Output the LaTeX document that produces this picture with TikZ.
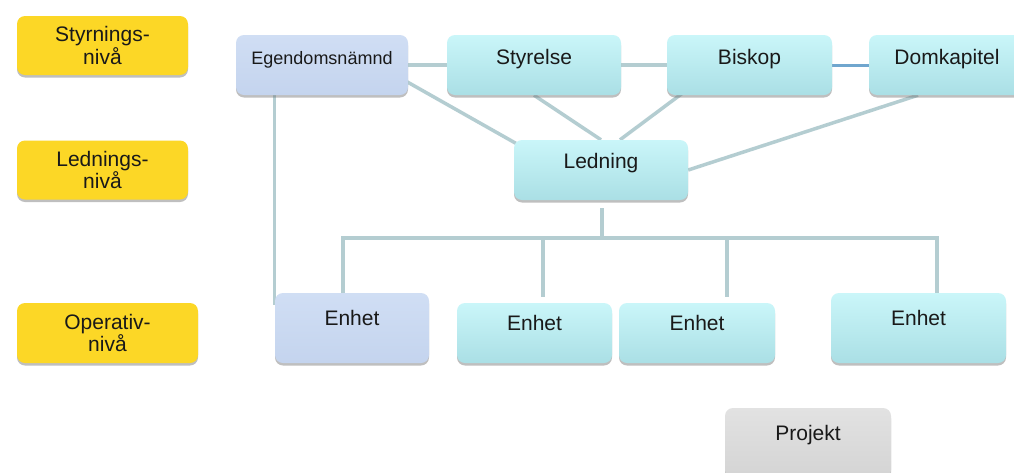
\documentclass[tikz,border=0pt]{standalone}
\usepackage{fontspec}
\setmainfont{Liberation Sans}
\usetikzlibrary{shadows,backgrounds,calc}
\definecolor{lev}{RGB}{252,215,38}
\definecolor{cyT}{RGB}{202,246,249}
\definecolor{cyB}{RGB}{170,223,229}
\definecolor{blT}{RGB}{208,222,244}
\definecolor{blB}{RGB}{196,212,238}
\definecolor{grT}{RGB}{226,226,226}
\definecolor{grB}{RGB}{212,212,212}
\definecolor{connc}{RGB}{180,205,209}
\definecolor{connb}{RGB}{112,166,206}
\definecolor{txt}{RGB}{25,25,25}
\begin{document}
\begin{tikzpicture}[x=1pt,y=-1pt,
  base/.style={rounded corners=8pt, inner sep=0pt, text=txt,
    font=\fontsize{21}{20}\selectfont,
    drop shadow={shadow xshift=0pt,shadow yshift=-2.5pt,fill=black!55,opacity=0.45}},
  lift/.style={text height=15pt, text depth=#1},
  levbox/.style={base, fill=lev, align=center, minimum width=171pt, minimum height=59pt},
  cyanbox/.style={base, top color=cyT, bottom color=cyB},
  bluebox/.style={base, top color=blT, bottom color=blB},
  greybox/.style={base, top color=grT, bottom color=grB},
  conn/.style={draw=connc, line width=3.5pt},
]
\useasboundingbox (0,0) rectangle (1014,472);
\clip (0,0) rectangle (1014,472);

% level labels
\node[levbox] (lev1) at (102.5,45.5) {Styrnings-\\nivå};
\node[levbox] (lev2) at (102.5,170) {Lednings-\\nivå};
\node[levbox, minimum width=181pt, minimum height=60pt] (lev3) at (107.5,333) {Operativ-\\nivå};

% top row
\node[bluebox, lift=17pt, minimum width=172pt, minimum height=60pt,
      font=\fontsize{18}{18}\selectfont] (eg) at (322,65) {Egendomsnämnd};
\node[cyanbox, lift=17pt, minimum width=174pt, minimum height=60pt] (sty) at (534,65) {Styrelse};
\node[cyanbox, lift=16pt, minimum width=165pt, minimum height=60pt] (bis) at (749.5,65) {Biskop};
\node[cyanbox, lift=16pt, minimum width=156pt, minimum height=60pt] (dom) at (947,65) {Domkapitel};

% middle
\node[cyanbox, lift=17.8pt, minimum width=174pt, minimum height=60pt] (led) at (601,170) {Ledning};

% bottom row
\node[bluebox, lift=19.8pt, minimum width=154pt, minimum height=70pt] (en1) at (352,328) {Enhet};
\node[cyanbox, lift=19.8pt, minimum width=155pt, minimum height=60pt] (en2) at (534.5,333) {Enhet};
\node[cyanbox, lift=19.8pt, minimum width=156pt, minimum height=60pt] (en3) at (697,333) {Enhet};
\node[cyanbox, lift=19.8pt, minimum width=175pt, minimum height=70pt] (en4) at (918.5,328) {Enhet};

% project
\node[greybox, lift=19.8pt, minimum width=166pt, minimum height=70pt] (proj) at (808,443) {Projekt};

% bus coordinates
\coordinate (busL) at (343,238);
\coordinate (busR) at (937,238);
\coordinate (busM) at (602,238);
\coordinate (b2) at (543,238);
\coordinate (b3) at (727,238);

\begin{scope}[on background layer]
  \fill[white] (0,0) rectangle (1014,472);
  \draw[conn] (eg.east) -- (sty.west);
  \draw[conn] (sty.east) -- (bis.west);
  \draw[draw=connb, line width=3pt] (bis.east) -- (dom.west);
  \draw[conn] ([xshift=-4pt,yshift=15pt]eg.south east) -- ([xshift=10pt,yshift=-8pt]led.north west);
  \draw[conn] (sty.south) -- (led.north);
  \draw[conn] ([xshift=21pt,yshift=6pt]bis.south west) -- ([xshift=19pt]led.north);
  \draw[conn] ([xshift=-29pt]dom.south) -- (led.east);
  \draw[conn, line width=3pt] ([xshift=39pt]eg.south west) -- ([yshift=-12pt]en1.north west);
  \draw[conn] ([yshift=-8pt]busM |- led.south) -- (busM);
  \draw[conn] ([xshift=-1.75pt]busL) -- ([xshift=1.75pt]busR);
  \draw[conn] (busL) -- (busL |- en1.north);
  \draw[conn] (b2) -- ([yshift=6pt]b2 |- en2.north);
  \draw[conn] (b3) -- ([yshift=6pt]b3 |- en3.north);
  \draw[conn] (busR) -- (busR |- en4.north);
\end{scope}
\end{tikzpicture}
\end{document}
